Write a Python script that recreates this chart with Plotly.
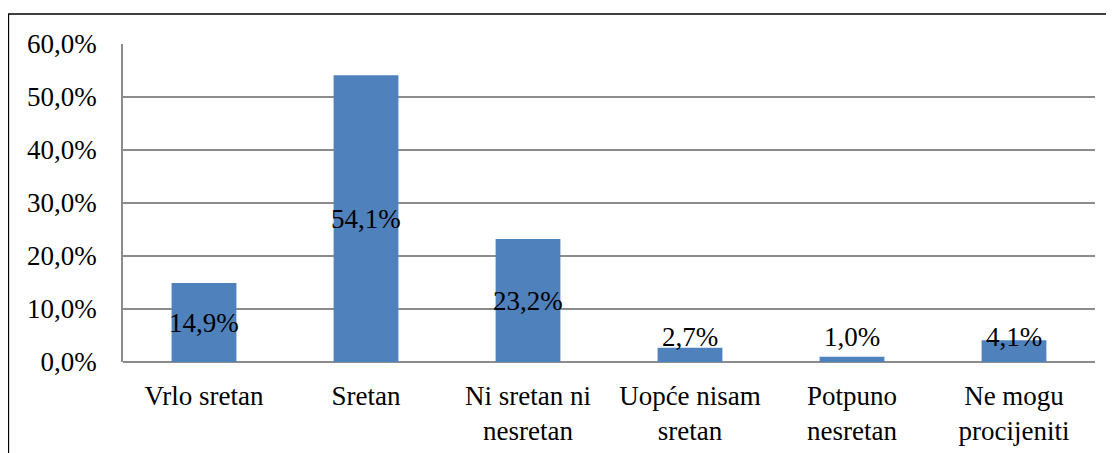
import plotly.graph_objects as go

categories = ["Vrlo sretan", "Sretan", "Ni sretan ni<br>nesretan", "Uopće nisam<br>sretan",
              "Potpuno<br>nesretan", "Ne mogu<br>procijeniti"]
values = [14.9, 54.1, 23.2, 2.7, 1.0, 4.1]
y_ticks = [0, 10, 20, 30, 40, 50, 60]


def pct(v):
    return f"{v:.1f}".replace(".", ",") + "%"


FONT = "Liberation Serif"
FS = 27
GRID = "#8c8c8c"
BAR = "#4F81BD"

fig = go.Figure()
fig.add_trace(go.Bar(x=categories, y=values, marker=dict(color=BAR, line=dict(width=0)),
                     width=0.4, hoverinfo="skip"))

# data labels: centred in bar, but clamped so they sit just above the axis for short bars
min_center = 4.7
for c, v in zip(categories, values):
    fig.add_annotation(x=c, y=max(v / 2, min_center), text=pct(v),
                       showarrow=False, xref="x", yref="y", yanchor="middle",
                       font=dict(family=FONT, size=FS, color="black"))

# outer frame (right and bottom edges fall outside the picture)
fig.add_shape(type="rect", xref="paper", yref="paper", x0=-0.1178, x1=1.1, y0=-0.4, y1=1.0943,
              line=dict(color="black", width=1.3), fillcolor="rgba(0,0,0,0)", layer="above")

fig.update_layout(
    width=1106, height=445,
    margin=dict(l=115, r=19, t=36, b=91),
    paper_bgcolor="white", plot_bgcolor="white",
    showlegend=False,
    bargap=0.6,
    font=dict(family=FONT, size=FS, color="black"),
    xaxis=dict(showgrid=False, showline=False, ticks="", tickfont=dict(size=FS),
               ticklabelstandoff=15, automargin=False, fixedrange=True),
    yaxis=dict(range=[0, 60], tickvals=y_ticks, ticktext=[pct(t) for t in y_ticks],
               showgrid=True, gridcolor=GRID, gridwidth=1.5,
               showline=True, linecolor=GRID, linewidth=1.5,
               zeroline=True, zerolinecolor=GRID, zerolinewidth=1.5,
               ticks="", ticklabelstandoff=19, tickfont=dict(size=FS),
               automargin=False, fixedrange=True),
)

fig.write_html("out.html")
